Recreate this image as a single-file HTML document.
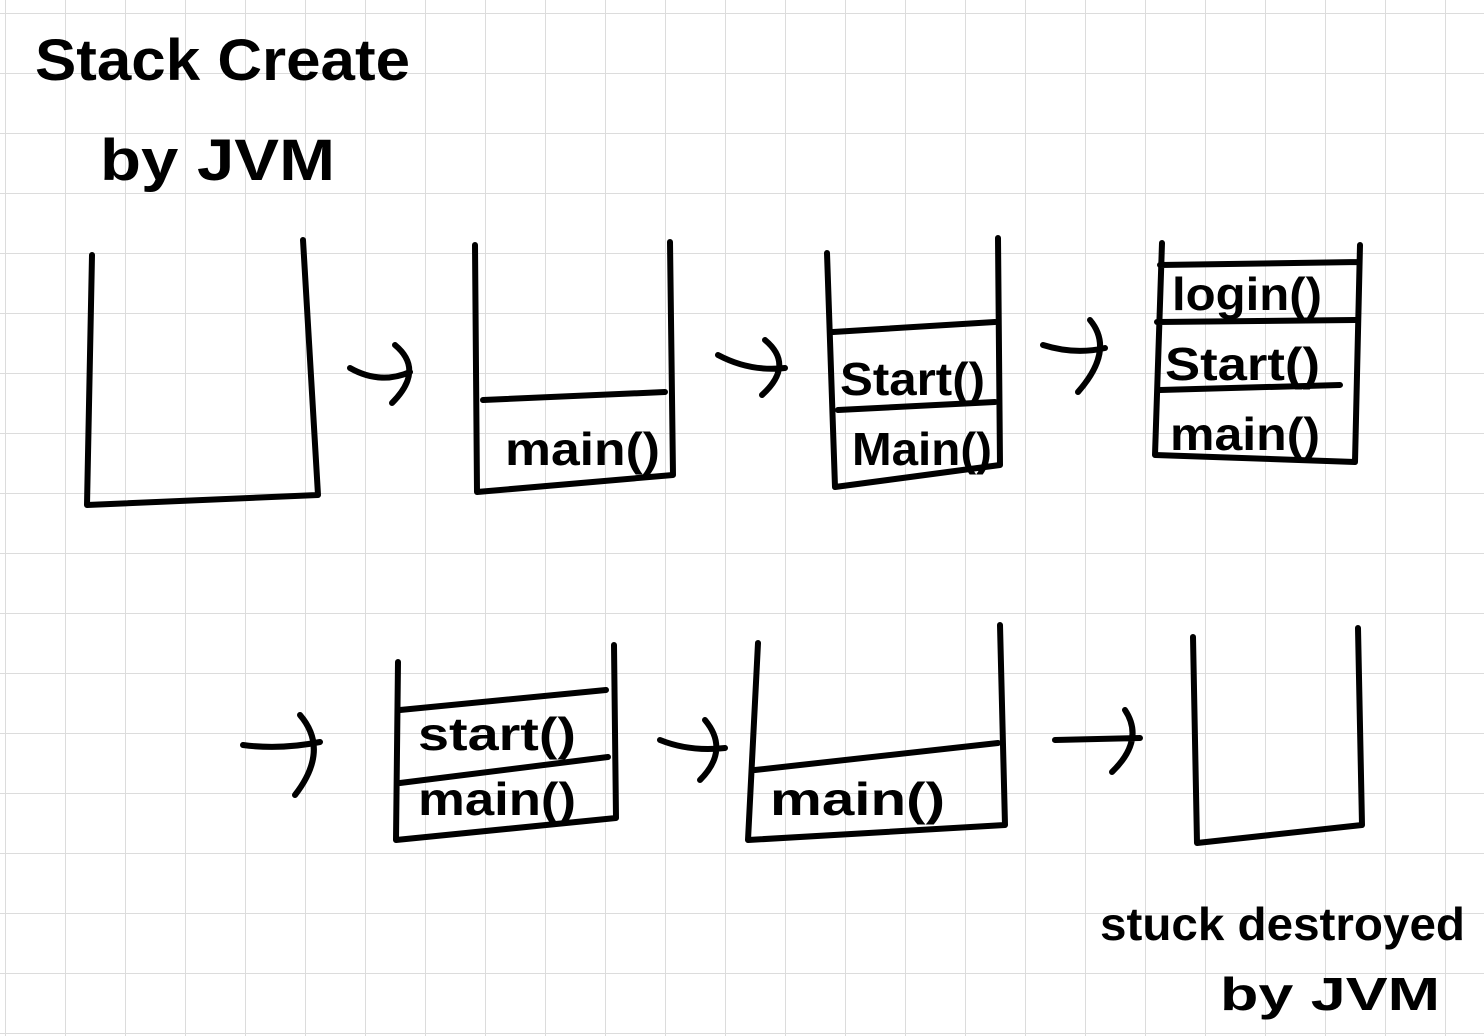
<!DOCTYPE html>
<html><head><style>
body{margin:0;background:#fff}
svg{display:block}
text{font-family:"Liberation Sans",sans-serif;fill:#000;font-weight:bold}
</style></head><body>
<svg width="1484" height="1036" viewBox="0 0 1484 1036" xmlns="http://www.w3.org/2000/svg">
<defs><pattern id="g" x="5" y="13" width="60" height="60" patternUnits="userSpaceOnUse">
<path d="M0 0H60M0 0V60" stroke="#dcdcdc" stroke-width="2" fill="none"/></pattern></defs>
<rect width="1484" height="1036" fill="url(#g)"/>
<g stroke="#000" stroke-width="6" fill="none" stroke-linecap="round" stroke-linejoin="round">
<path d="M92 255 L87 505 L318 495 L303 240"/>
<path d="M350 368 Q380 385 410 372 M395 345 Q425 370 392 403"/>
<path d="M475 245 L477 492 L673 475 L670 242 M483 400 L665 392"/>
<path d="M718 355 Q750 372 785 368 M765 340 Q795 365 762 395"/>
<path d="M827 253 L835 487 L1000 465 L998 238 M833 332 L995 322 M838 410 L995 402"/>
<path d="M1043 345 Q1075 355 1105 348 M1090 320 Q1115 350 1078 392"/>
<path d="M1162 243 L1155 455 L1355 462 L1360 245 M1160 265 L1358 262 M1157 322 L1355 320 M1160 390 L1340 385"/>
<path d="M243 745 Q280 750 320 742 M300 715 Q330 750 295 795"/>
<path d="M398 662 L396 840 L616 818 L614 645 M400 710 L606 690 M400 783 L608 757"/>
<path d="M660 740 Q690 752 725 748 M705 720 Q730 750 700 780"/>
<path d="M758 643 L748 840 L1005 825 L1000 625 M755 770 L998 743"/>
<path d="M1055 740 L1140 738 M1125 710 Q1145 740 1112 772"/>
<path d="M1193 637 L1197 843 L1362 825 L1358 628"/>
</g>
<g font-size="58" lengthAdjust="spacingAndGlyphs">
<text x="35" y="80" textLength="375" lengthAdjust="spacingAndGlyphs">Stack Create</text>
<text x="100" y="180" textLength="235" lengthAdjust="spacingAndGlyphs">by JVM</text>
</g>
<g font-size="46">
<text x="505" y="465" textLength="155" lengthAdjust="spacingAndGlyphs">main()</text>
<text x="840" y="395" textLength="145" lengthAdjust="spacingAndGlyphs">Start()</text>
<text x="852" y="465" textLength="140" lengthAdjust="spacingAndGlyphs">Main()</text>
<text x="1172" y="310" textLength="150" lengthAdjust="spacingAndGlyphs">login()</text>
<text x="1165" y="380" textLength="155" lengthAdjust="spacingAndGlyphs">Start()</text>
<text x="1170" y="450" textLength="150" lengthAdjust="spacingAndGlyphs">main()</text>
<text x="418" y="750" textLength="158" lengthAdjust="spacingAndGlyphs">start()</text>
<text x="418" y="815" textLength="158" lengthAdjust="spacingAndGlyphs">main()</text>
<text x="770" y="815" textLength="175" lengthAdjust="spacingAndGlyphs">main()</text>
<text x="1100" y="940" textLength="365" lengthAdjust="spacingAndGlyphs">stuck destroyed</text>
<text x="1220" y="1010" textLength="220" lengthAdjust="spacingAndGlyphs">by JVM</text>
</g>
</svg>
</body></html>
